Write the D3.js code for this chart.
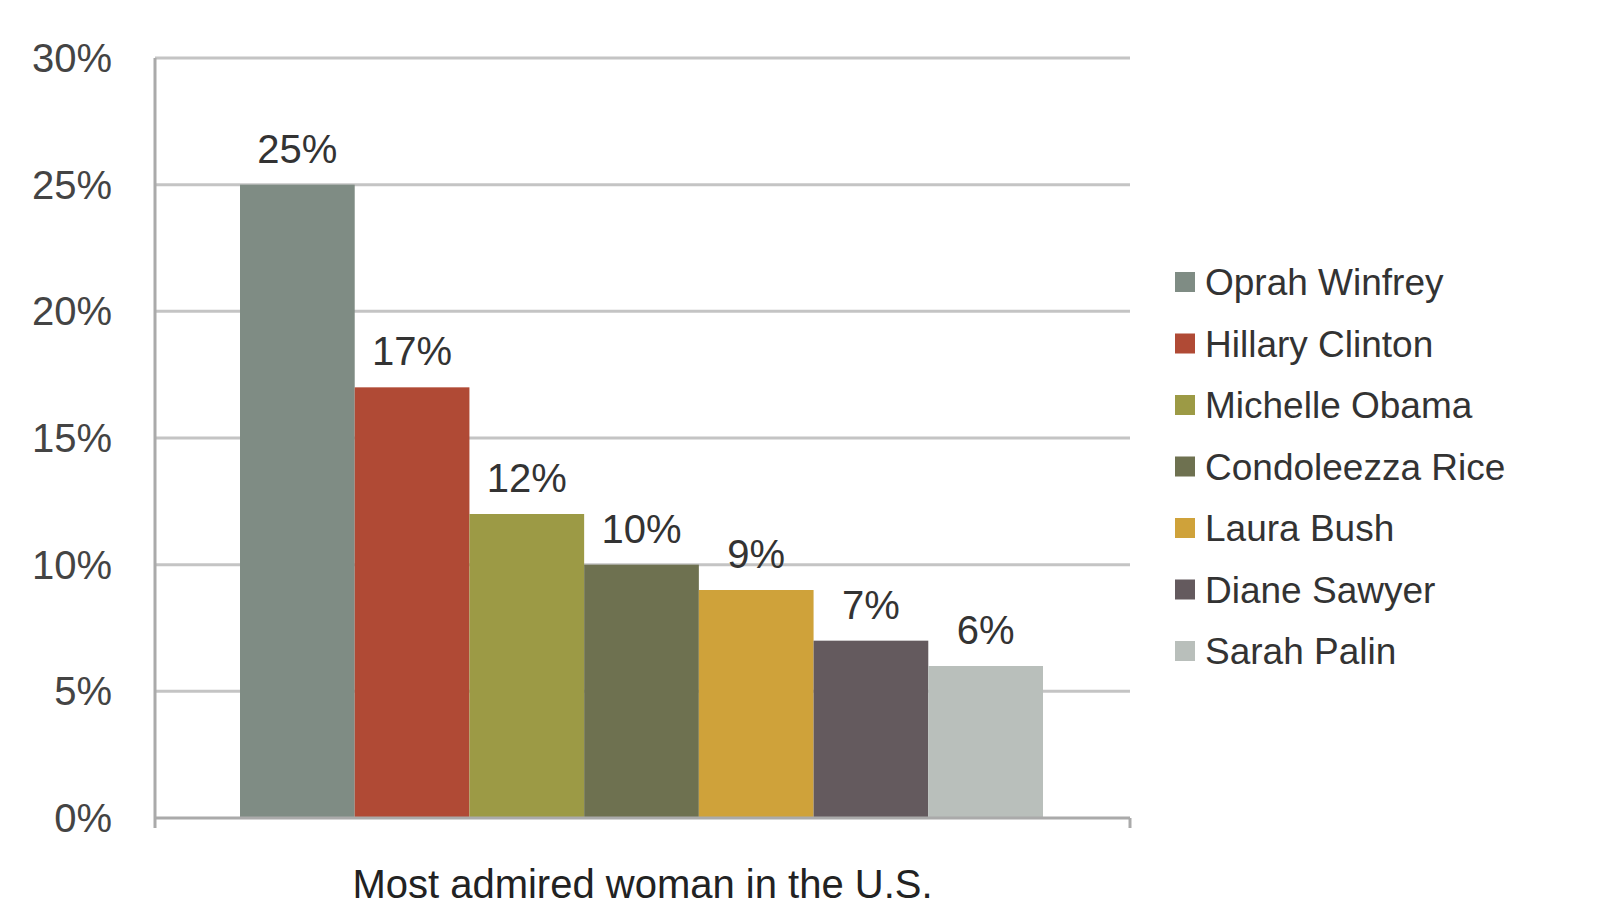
<!DOCTYPE html>
<html><head><meta charset="utf-8">
<script src="https://cdn.jsdelivr.net/npm/d3@7"></script>
<style>body{margin:0;background:#fff}svg{display:block}</style>
</head><body><svg id="c" width="1600" height="900"></svg>
<script>
const names = ["Oprah Winfrey","Hillary Clinton","Michelle Obama","Condoleezza Rice","Laura Bush","Diane Sawyer","Sarah Palin"];
const values = [25,17,12,10,9,7,6];
const colors = ["#7f8c84","#b04a35","#9c9a45","#6e7150","#cfa23a","#645a5e","#b9bfbb"];
const yTicks = [0,5,10,15,20,25,30];
const category = "Most admired woman in the U.S.";

const svg = d3.select("#c");
const font = "Liberation Sans, Arial, sans-serif";
const L=155,R=1130,T=58,B=818;
const y = d3.scaleLinear().domain([0,30]).range([B,T]);
const x = d3.scaleBand().domain(names).range([240,1043]).padding(0);

svg.selectAll("line.g").data(yTicks.slice(1)).join("line")
  .attr("x1",L).attr("x2",R).attr("y1",d=>y(d)).attr("y2",d=>y(d))
  .attr("stroke","#c4c4c4").attr("stroke-width",3);
svg.selectAll("text.yt").data(yTicks).join("text")
  .attr("x",112).attr("y",d=>y(d)+14).attr("text-anchor","end")
  .attr("font-family",font).attr("font-size",40).attr("fill","#444")
  .text(d=>d+"%");

svg.selectAll("rect.b").data(values).join("rect")
  .attr("x",(d,i)=>x(names[i])).attr("width",x.bandwidth())
  .attr("y",d=>y(d)).attr("height",d=>B-y(d)).attr("fill",(d,i)=>colors[i]);
svg.selectAll("text.v").data(values).join("text")
  .attr("x",(d,i)=>x(names[i])+x.bandwidth()/2).attr("y",d=>y(d)-22)
  .attr("text-anchor","middle").attr("font-family",font).attr("font-size",40).attr("fill","#333")
  .text(d=>d+"%");

svg.append("line").attr("x1",L).attr("x2",L).attr("y1",T).attr("y2",B+10).attr("stroke","#aaa").attr("stroke-width",3);
svg.append("line").attr("x1",L).attr("x2",R).attr("y1",B).attr("y2",B).attr("stroke","#aaa").attr("stroke-width",3);
svg.append("line").attr("x1",R).attr("x2",R).attr("y1",B).attr("y2",B+10).attr("stroke","#aaa").attr("stroke-width",3);
svg.append("text").attr("x",(L+R)/2).attr("y",898).attr("text-anchor","middle")
  .attr("font-family",font).attr("font-size",40).attr("fill","#222").text(category);

const lg = svg.selectAll("g.l").data(names).join("g").attr("transform",(d,i)=>`translate(1175,${282+i*61.5})`);
lg.append("rect").attr("x",0).attr("y",-10).attr("width",20).attr("height",20).attr("fill",(d,i)=>colors[i]);
lg.append("text").attr("x",30).attr("y",13).attr("font-family",font).attr("font-size",37).attr("fill","#333").text(d=>d);
</script></body></html>
